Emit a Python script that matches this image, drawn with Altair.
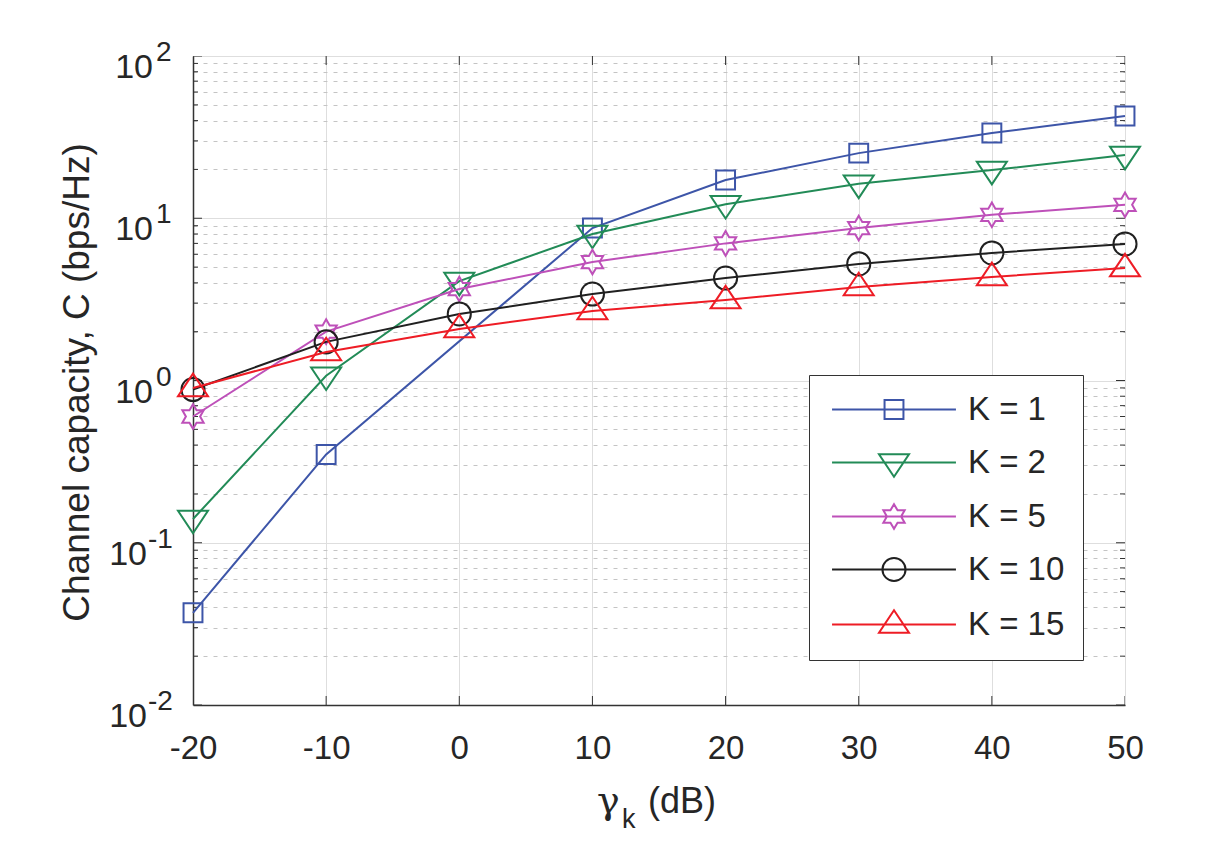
import altair as alt
import pandas as pd

# ---------------- data ----------------
gamma_db = [-20, -10, 0, 10, 20, 30, 40, 50]
series = ["K = 1", "K = 2", "K = 5", "K = 10", "K = 15"]
cap_k1 = [0.037, 0.35, None, 8.7, 17.2, 25.2, 33.5, 42.7]
cap_k2 = [0.14, 1.07, 4.1, 8.0, 12.2, 16.3, 19.8, 24.5]
cap_k5 = [0.60, 2.0, 3.66, 5.37, 7.0, 8.7, 10.5, 12.1]
cap_k10 = [0.88, 1.73, 2.57, 3.41, 4.28, 5.23, 6.11, 6.94]
cap_k15 = [0.90, 1.50, 2.08, 2.68, 3.13, 3.77, 4.35, 4.93]
capacities = [cap_k1, cap_k2, cap_k5, cap_k10, cap_k15]

x_tick_values = [-20, -10, 0, 10, 20, 30, 40, 50]
y_exponents = [-2, -1, 0, 1, 2]
y_minor_mult = [2, 3, 4, 5, 6, 7, 8, 9]

# ---------------- styles ----------------
colors = ["#3d55a8", "#228b57", "#be50b9", "#202020", "#ee1c25"]
shapes = [
    "M-0.63,-0.63H0.63V0.63H-0.63Z",                                   # square
    "M-1,-0.55H1L0,0.95Z",                                             # triangle down
    "M0,-0.82L0.237,-0.41L0.71,-0.41L0.474,0L0.71,0.41L0.237,0.41L0,0.82"
    "L-0.237,0.41L-0.71,0.41L-0.474,0L-0.71,-0.41L-0.237,-0.41Z",      # hexagram
    "M0.77,0A0.77,0.77,0,1,1,-0.77,0A0.77,0.77,0,1,1,0.77,0Z",         # circle
    "M-1,0.55H1L0,-0.95Z",                                             # triangle up
]
legend_line = "M-4.13,0H4.13"
FONT = "Liberation Sans"
TXT = "#262626"
BOX = "#333333"

rows = []
for name, vals in zip(series, capacities):
    for g, c in zip(gamma_db, vals):
        if c is not None:
            rows.append({"gamma": g, "C": c, "K": name})
df = pd.DataFrame(rows)

x_tick_df = pd.DataFrame({"gamma": x_tick_values})
y_major_vals = [10.0 ** e for e in y_exponents]
y_minor_vals = [m * 10.0 ** e for e in y_exponents[:-1] for m in y_minor_mult]
y_major_df = pd.DataFrame({"C": y_major_vals})
y_minor_df = pd.DataFrame({"C": y_minor_vals})
y_lab_df = pd.DataFrame({
    "C": y_major_vals,
    "base": ["10"] * len(y_exponents),
    "exp": [str(e) for e in y_exponents],
    "neg": [e < 0 for e in y_exponents],
})

x_scale = alt.Scale(domain=[-20, 50], nice=False, zero=False)
y_scale = alt.Scale(type="log", domain=[0.01, 100], nice=False)

major_test = "abs(log(datum.value) / LN10 - round(log(datum.value) / LN10)) < 0.001"

x_axis = alt.Axis(
    values=x_tick_values, grid=True, gridColor="#dedede", gridWidth=1,
    ticks=False, domain=True, domainColor=BOX, domainWidth=1.5,
    labelFontSize=33, labelColor=TXT, labelFont=FONT, labelBaseline="alphabetic",
    labelPadding=53, labelFlush=False, labelExpr="'' + datum.value", title=None,
)
y_axis = alt.Axis(
    values=y_major_vals + y_minor_vals, grid=True,
    gridColor=alt.condition(major_test, alt.value("#dedede"), alt.value("#c4c4c4")),
    gridDash=alt.condition(major_test, alt.value([]), alt.value([4, 6])),
    gridWidth=1, labels=False, ticks=False, domain=True, domainColor=BOX, domainWidth=1.5,
    title="Channel capacity, C (bps/Hz)", titleFont=FONT, titleFontSize=37,
    titleFontWeight="normal", titleColor=TXT, titleX=-105, titleY=326,
    titleBaseline="alphabetic", titleAlign="center", titleAngle=270,
)


def X(field):
    return alt.X(field, type="quantitative", scale=x_scale, axis=x_axis)


def Y(field):
    return alt.Y(field, type="quantitative", scale=y_scale, axis=y_axis)


def XD(v):
    return alt.XDatum(v, type="quantitative", scale=x_scale, axis=x_axis)


def YD(v):
    return alt.YDatum(v, type="quantitative", scale=y_scale, axis=y_axis)


layers = []

# ticks pointing inwards (box style)
tick_style = dict(color=BOX, thickness=1, clip=True, opacity=1)
for yv in [0.01, 100]:
    layers.append(alt.Chart(x_tick_df).mark_tick(orient="vertical", size=18, **tick_style)
                  .encode(x=X("gamma"), y=YD(yv)))
for xv in [-20, 50]:
    layers.append(alt.Chart(y_major_df).mark_tick(orient="horizontal", size=18, **tick_style)
                  .encode(x=XD(xv), y=Y("C")))
    layers.append(alt.Chart(y_minor_df).mark_tick(orient="horizontal", size=10, **tick_style)
                  .encode(x=XD(xv), y=Y("C")))

# series: line then markers, in MATLAB order
for name, color, shape in zip(series, colors, shapes):
    sub = alt.Chart(df).transform_filter(alt.datum.K == name)
    layers.append(sub.mark_line(color=color, strokeWidth=2)
                  .encode(x=X("gamma"), y=Y("C")))
    layers.append(sub.mark_point(shape=shape, size=900, filled=False, color=color,
                                 strokeWidth=2, opacity=1)
                  .encode(x=X("gamma"), y=Y("C")))

# legend (empty layer, legend built from explicit scale domains)
legend = alt.Legend(
    title=None, orient="none", legendX=616, legendY=319,
    labelFont=FONT, labelFontSize=33, labelColor=TXT,
    symbolSize=900, symbolStrokeWidth=2, symbolOffset=50.5, labelOffset=57.5,
    padding=18, rowPadding=19, strokeColor=BOX, fillColor="white",
)
layers.append(
    alt.Chart(df).transform_filter("false")
    .mark_point(filled=False, size=900, strokeWidth=2, opacity=1)
    .encode(
        x=X("gamma"), y=Y("C"),
        color=alt.Color("K:N", scale=alt.Scale(domain=series, range=colors), legend=legend),
        shape=alt.Shape("K:N", scale=alt.Scale(domain=series, range=[legend_line + s for s in shapes]),
                        legend=legend),
    )
)

# y tick labels 10^e
lab = alt.Chart(y_lab_df)
for neg, dx_base, dx_exp in [(False, -40, -37), (True, -46, -45)]:
    part = lab.transform_filter(alt.datum.neg == neg)
    layers.append(part.mark_text(align="right", baseline="alphabetic", dx=dx_base, dy=22,
                                 fontSize=34, font=FONT, color=TXT)
                  .encode(x=XD(-20), y=Y("C"), text="base:N"))
    layers.append(part.mark_text(align="left", baseline="alphabetic", dx=dx_exp, dy=5,
                                 fontSize=28, font=FONT, color=TXT)
                  .encode(x=XD(-20), y=Y("C"), text="exp:N"))

# x axis title: gamma_k (dB)
title_parts = [("γ", "DejaVu Serif", 38, 404, 757),
               ("k", FONT, 27, 429, 772),
               ("(dB)", FONT, 36, 455, 757)]
for t, f, fs, px, py in title_parts:
    layers.append(alt.Chart(pd.DataFrame({"t": [t]}))
                  .mark_text(align="left", baseline="alphabetic", font=f, fontSize=fs, color=TXT)
                  .encode(text="t:N", x=alt.value(px), y=alt.value(py)))

chart = alt.layer(*layers).properties(
    width=932, height=649,
    autosize=alt.AutoSizeParams(type="none"),
    padding={"left": 185, "top": 48, "right": 96, "bottom": 154},
    background="white",
).configure_view(stroke=BOX, strokeWidth=1.5).configure(font=FONT)

chart.save("out.html", embed_options={"renderer": "svg", "actions": False})
